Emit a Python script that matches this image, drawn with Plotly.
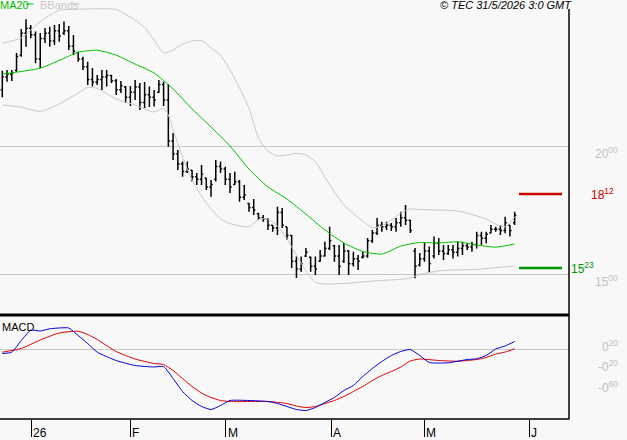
import plotly.graph_objects as go

# ---------------- DATA ----------------
opens = [22.20,22.70,22.80,22.95,23.55,24.40,24.60,24.35,23.40,24.20,24.40,24.10,24.50,24.40,24.50,23.90,23.65,23.40,23.10,22.60,
         22.50,22.60,22.70,22.75,22.55,22.20,22.30,21.90,22.10,22.30,21.70,22.00,21.90,22.10,22.40,21.80,20.20,19.70,19.30,19.00,
         19.05,18.80,18.70,18.75,18.40,18.70,19.20,19.10,18.70,18.50,18.60,18.00,17.75,17.60,17.35,17.20,17.15,16.90,16.80,17.40,
         16.85,16.50,15.50,15.20,15.70,15.65,15.30,15.50,15.70,16.00,16.10,15.70,15.50,15.90,15.40,15.60,15.65,15.70,16.30,16.60,
         16.90,16.85,16.90,16.85,17.00,17.20,17.10,15.90,15.35,15.60,15.90,15.70,16.20,15.90,15.80,15.95,15.85,16.00,16.10,16.05,
         16.15,16.50,16.40,16.60,16.75,16.75,16.70,16.90,17.00]
highs = [22.94,22.97,22.97,23.63,24.57,24.95,24.73,24.47,24.41,24.61,24.66,24.73,24.77,24.86,24.69,24.34,23.68,23.49,23.29,23.05,
         22.77,22.97,22.97,22.77,22.62,22.54,22.34,22.34,22.58,22.46,22.50,22.32,22.19,22.58,22.51,22.42,20.51,19.84,19.39,19.39,
         19.06,18.95,19.26,18.75,18.67,19.45,19.39,19.19,18.95,18.99,18.67,18.48,17.77,17.93,17.39,17.30,17.19,16.91,17.63,17.58,
         16.85,16.52,15.68,15.68,16.02,15.68,15.68,15.94,16.26,16.85,16.13,16.13,16.21,15.94,15.87,15.74,15.87,16.41,16.72,17.19,
         17.04,17.04,16.99,17.19,17.43,17.70,17.11,16.02,15.82,16.21,16.07,16.46,16.41,16.13,16.13,16.13,16.26,16.26,16.21,16.26,
         16.65,16.65,16.65,16.91,16.85,16.91,17.24,16.91,17.43]
lows = [21.90,22.51,22.54,22.90,23.49,23.88,24.21,23.23,23.05,24.02,23.88,23.95,24.07,24.34,23.75,23.55,23.29,22.97,22.38,22.32,
        22.38,22.19,22.32,22.46,21.99,22.07,21.68,21.56,21.80,21.41,21.48,21.52,21.54,22.07,21.56,19.97,19.45,19.06,18.80,18.95,
        18.61,18.48,18.48,18.28,18.02,18.61,18.95,18.48,18.16,18.48,17.82,17.89,17.43,17.30,17.11,17.04,16.72,16.65,16.52,16.80,
        16.33,15.23,14.84,15.09,15.66,15.09,14.96,15.48,15.68,15.94,15.48,14.96,15.43,14.96,15.29,15.16,15.61,15.63,16.21,16.52,
        16.65,16.72,16.68,16.65,16.85,16.91,16.60,14.83,15.29,15.48,15.04,15.61,15.74,15.55,15.74,15.61,15.68,15.74,15.94,15.87,
        16.00,16.13,16.20,16.59,16.65,16.52,16.59,16.46,16.91]
closes = [22.70,22.80,22.85,23.50,24.40,24.60,24.35,23.40,24.20,24.40,24.10,24.50,24.30,24.50,23.90,23.70,23.40,23.10,22.60,22.50,
          22.60,22.70,22.75,22.55,22.20,22.35,21.90,22.10,22.30,21.70,22.00,21.90,21.80,22.40,21.80,20.20,19.70,19.30,19.00,19.10,
          18.80,18.70,18.90,18.40,18.50,19.20,19.10,18.70,18.40,18.60,18.00,18.10,17.60,17.50,17.20,17.15,16.90,16.80,17.40,16.90,
          16.50,15.50,15.20,15.40,15.85,15.30,15.20,15.70,16.00,16.30,15.70,15.30,15.90,15.40,15.60,15.50,15.70,16.30,16.60,16.90,
          16.85,16.90,16.85,17.00,17.20,17.10,16.70,15.30,15.60,15.90,15.40,16.20,15.90,15.80,15.95,15.85,16.00,16.10,16.05,16.15,
          16.50,16.40,16.55,16.75,16.75,16.70,17.00,16.70,17.30]

ma20_idx = [0,4,8,12,16,20,24,28,32,36,40,44,48,52,56,60,64,68,72,76,80,84,88,92,96,100,104,108]
ma20_val = [22.81,22.91,23.04,23.34,23.66,23.74,23.55,23.20,22.85,22.23,21.45,20.74,20.00,19.10,18.40,17.93,17.34,16.72,16.21,
            15.88,15.78,16.09,16.23,16.21,16.26,16.13,16.05,16.17]

bb_up_idx = [0,4,8,12,16,20,24,28,30,32,34,36,38,40,42,44,46,48,50,52,54,56,58,60,62,64,66,68,70,72,74,76,78,80,82,84,86,88,
             92,96,100,102,104,106,108]
bb_up_val = [24.02,24.22,24.86,25.30,25.34,25.36,25.33,24.92,24.63,24.14,23.63,23.75,23.98,24.10,24.12,23.83,23.55,22.97,22.27,
             21.48,20.31,19.80,19.61,19.65,19.71,19.65,19.38,18.79,18.20,17.70,17.36,17.07,16.80,16.88,17.11,17.38,17.54,17.52,
             17.50,17.46,17.27,17.15,16.95,16.84,17.23]

bb_lo_idx = [0,4,8,12,16,18,20,24,28,32,34,35,36,38,40,42,44,46,48,50,52,54,56,58,60,62,64,66,68,72,76,80,84,86,88,92,96,100,
             104,108]
bb_lo_val = [21.60,21.52,21.35,21.64,22.07,22.29,22.25,21.84,21.60,21.33,21.47,21.21,20.63,19.57,18.67,18.05,17.54,17.15,16.97,
             16.88,16.84,17.13,17.15,16.88,16.37,15.74,15.12,14.67,14.61,14.63,14.69,14.75,14.79,14.84,14.98,15.12,15.16,15.18,
             15.25,15.31]

macd_idx = [0,2,4,6,8,10,12,14,16,18,20,24,28,32,34,36,38,40,42,44,46,48,52,56,58,60,62,64,66,68,70,72,74,76,78,80,82,84,86,
            88,90,94,98,100,102,104,106,108]
macd_val = [-0.088,-0.062,0.166,0.367,0.351,0.394,0.410,0.410,0.263,0.107,-0.062,-0.224,-0.322,-0.351,-0.341,-0.575,-0.829,
            -1.004,-1.121,-1.180,-1.102,-1.004,-1.004,-1.024,-1.063,-1.121,-1.180,-1.199,-1.141,-1.043,-0.946,-0.809,-0.712,
            -0.536,-0.380,-0.244,-0.127,-0.049,-0.010,-0.127,-0.263,-0.269,-0.205,-0.191,-0.127,0.000,0.059,0.146]

sig_idx = [0,4,8,12,16,18,20,24,28,32,34,36,38,40,42,44,46,48,52,56,60,62,64,66,68,70,72,74,76,78,80,82,84,86,88,92,96,100,
           102,104,106,108]
sig_val = [-0.062,0.010,0.176,0.312,0.347,0.283,0.185,-0.049,-0.195,-0.283,-0.302,-0.419,-0.575,-0.731,-0.858,-0.946,-1.004,
           -1.024,-1.024,-1.024,-1.063,-1.112,-1.141,-1.121,-1.063,-1.004,-0.926,-0.829,-0.731,-0.614,-0.517,-0.439,-0.351,
           -0.234,-0.195,-0.224,-0.238,-0.205,-0.166,-0.098,-0.059,0.004]

month_pos = [6.05, 26.92, 47.15, 69.29, 88.95, 111.09]
month_labels = ["26", "F", "M", "A", "M", "J"]

price_ticks = [20, 15]
price_tick_text = ["20<sup>00</sup>", "15<sup>00</sup>"]
macd_ticks = [0.20, -0.20, -0.60]
macd_tick_text = ["0<sup>20</sup>", "-0<sup>20</sup>", "-0<sup>60</sup>"]

resistance = 18.12
resistance_text = "18<sup>12</sup>"
support = 15.23
support_text = "15<sup>23</sup>"

# ---------------- STYLE ----------------
W, H = 627, 440
BG = "#f8f8f8"
FONT = "Liberation Sans, Arial, sans-serif"
GREEN = "#00c000"
BBGRAY = "#c8c8c8"
LBLGRAY = "#c0c0c0"

def px(xp):
    return xp / W

def py(yp):
    return 1 - yp / H

bar_idx = list(range(len(closes)))

fig = go.Figure()
fig.add_trace(go.Ohlc(x=bar_idx, open=opens, high=highs, low=lows, close=closes,
                      increasing=dict(line=dict(color="black", width=1.5)),
                      decreasing=dict(line=dict(color="black", width=1.5)),
                      tickwidth=0.35, xaxis="x", yaxis="y", hoverinfo="skip"))
fig.add_trace(go.Scatter(x=bb_up_idx, y=bb_up_val, mode="lines", line=dict(color=BBGRAY, width=1, shape="spline", smoothing=0.6),
                         xaxis="x", yaxis="y", hoverinfo="skip"))
fig.add_trace(go.Scatter(x=bb_lo_idx, y=bb_lo_val, mode="lines", line=dict(color=BBGRAY, width=1, shape="spline", smoothing=0.6),
                         xaxis="x", yaxis="y", hoverinfo="skip"))
fig.add_trace(go.Scatter(x=ma20_idx, y=ma20_val, mode="lines", line=dict(color=GREEN, width=1, shape="spline", smoothing=0.6),
                         xaxis="x", yaxis="y", hoverinfo="skip"))
fig.add_trace(go.Scatter(x=sig_idx, y=sig_val, mode="lines", line=dict(color="#dd0000", width=1, shape="spline", smoothing=0.5),
                         xaxis="x2", yaxis="y2", hoverinfo="skip"))
fig.add_trace(go.Scatter(x=macd_idx, y=macd_val, mode="lines", line=dict(color="#0000dd", width=1, shape="spline", smoothing=0.5),
                         xaxis="x2", yaxis="y2", hoverinfo="skip"))

xr = [-2.3 / 4.744, (569 - 2.3) / 4.744]
dom_x = [0, px(569)]

shapes = [
    dict(type="line", xref="paper", yref="paper", x0=0, x1=px(569), y0=py(315), y1=py(315), line=dict(color="black", width=3)),
    dict(type="line", xref="paper", yref="paper", x0=0, x1=px(569.5), y0=py(419), y1=py(419), line=dict(color="black", width=1.5)),
    dict(type="line", xref="paper", yref="paper", x0=px(569), x1=px(569), y0=py(9), y1=py(419), line=dict(color="black", width=1.5)),
    dict(type="line", xref="paper", yref="y", x0=px(519), x1=px(562), y0=resistance, y1=resistance, line=dict(color="#cc0000", width=2.5)),
    dict(type="line", xref="paper", yref="y", x0=px(519), x1=px(562), y0=support, y1=support, line=dict(color="#009900", width=2.5)),
    # legend swatches
    dict(type="line", xref="paper", yref="paper", x0=px(26), x1=px(33.5), y0=py(4), y1=py(4), line=dict(color=GREEN, width=1)),
    dict(type="line", xref="paper", yref="paper", x0=px(72), x1=px(80.5), y0=py(4), y1=py(4), line=dict(color=BBGRAY, width=1)),
]

ann = []
for v, t in zip(price_ticks, price_tick_text):
    ann.append(dict(x=px(620), y=v, xref="paper", yref="y", text=t, showarrow=False, xanchor="right", yanchor="top",
                    yshift=3, font=dict(family=FONT, size=12, color=LBLGRAY)))
for v, t in zip(macd_ticks, macd_tick_text):
    ann.append(dict(x=px(620), y=v, xref="paper", yref="y2", text=t, showarrow=False, xanchor="right", yanchor="top",
                    yshift=3, font=dict(family=FONT, size=12, color=LBLGRAY)))
ann.append(dict(x=px(616), y=resistance, xref="paper", yref="y", text=resistance_text, showarrow=False, xanchor="right",
                yanchor="middle", font=dict(family=FONT, size=12, color="#cc0000")))
ann.append(dict(x=px(569), y=support, xref="paper", yref="y", text=support_text, showarrow=False, xanchor="left",
                yanchor="middle", font=dict(family=FONT, size=12, color="#009900")))
for p, t in zip(month_pos, month_labels):
    ann.append(dict(x=p, y=py(433), xref="x2", yref="paper", text=t, showarrow=False, xanchor="left", yanchor="middle",
                    xshift=0, font=dict(family=FONT, size=12, color="black")))
ann.append(dict(x=0, y=1, xref="paper", yref="paper", text="MA20", showarrow=False, xanchor="left", yanchor="top",
                xshift=-2, yshift=3, font=dict(family=FONT, size=11, color=GREEN)))
ann.append(dict(x=px(40), y=1, xref="paper", yref="paper", text="BBands", showarrow=False, xanchor="left", yanchor="top",
                xshift=-2, yshift=3, font=dict(family=FONT, size=11, color=BBGRAY)))
ann.append(dict(x=px(574), y=1, xref="paper", yref="paper", text="<i>© TEC 31/5/2026 3:0 GMT</i>", showarrow=False,
                xanchor="right", yanchor="top", yshift=3, font=dict(family=FONT, size=11, color="black")))
ann.append(dict(x=0, y=py(322), xref="paper", yref="paper", text="MACD", showarrow=False, xanchor="left", yanchor="top",
                xshift=0, yshift=3, font=dict(family=FONT, size=11, color="black")))

main_rng = [25.703 - 315 / 25.6, 25.703]
macd_rng = [(349 - 419) * 0.0195, (349 - 316) * 0.0195]

fig.update_layout(
    width=W, height=H, margin=dict(l=0, r=0, t=0, b=0),
    paper_bgcolor=BG, plot_bgcolor=BG, showlegend=False,
    xaxis=dict(domain=dom_x, range=xr, anchor="y", showticklabels=False, showgrid=False, zeroline=False,
               ticks="", rangeslider=dict(visible=False), fixedrange=True),
    xaxis2=dict(domain=dom_x, range=xr, anchor="y2", showticklabels=False, showgrid=False, zeroline=False,
                ticks="outside", tickvals=month_pos, ticklen=17, tickwidth=1, tickcolor="black", fixedrange=True),
    yaxis=dict(domain=[py(315), 1], range=main_rng, tickvals=price_ticks, showticklabels=False, showgrid=True,
               gridcolor="#c8c8c8", gridwidth=1, zeroline=False, ticks="", fixedrange=True),
    yaxis2=dict(domain=[py(419), py(316)], range=macd_rng, tickvals=[0], showticklabels=False, showgrid=True,
                gridcolor="#c8c8c8", gridwidth=1, zeroline=False, ticks="", fixedrange=True),
    shapes=shapes, annotations=ann,
)

fig.write_html("out.html", config=dict(displayModeBar=False))
